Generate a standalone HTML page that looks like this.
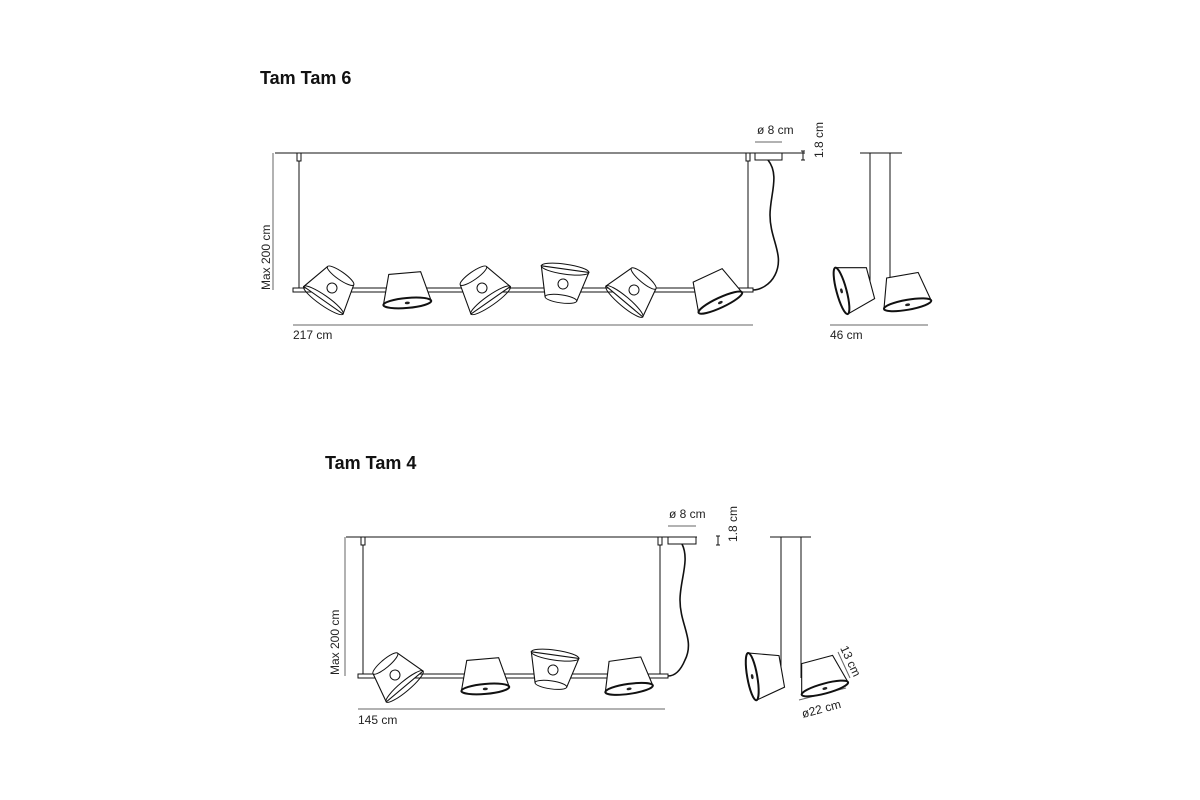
<!DOCTYPE html>
<html><head><meta charset="utf-8"><style>
html,body{margin:0;padding:0;background:#fff;}
svg{display:block;font-family:"Liberation Sans",sans-serif;}
</style></head><body>
<svg width="1200" height="800" viewBox="0 0 1200 800" xmlns="http://www.w3.org/2000/svg">
<defs>
<g id="sh">
<polygon points="-16,-15 16,-15 24,15 -24,15" fill="#fff" stroke="#111" stroke-width="1.1"/>
<ellipse cx="0" cy="15" rx="24" ry="5" fill="#fff" stroke="#111" stroke-width="2"/>
<ellipse cx="0" cy="15" rx="2.5" ry="1.3" fill="#222"/>
</g>
<g id="sh2">
<polygon points="-16,-15 16,-15 24,15 -24,15" fill="#fff" stroke="#111" stroke-width="1.1"/>
<ellipse cx="0" cy="-15" rx="16" ry="4" fill="#fff" stroke="#111" stroke-width="1"/>
<ellipse cx="0" cy="15" rx="24" ry="5" fill="none" stroke="#111" stroke-width="1"/>
<circle cx="0" cy="0" r="5" fill="#fff" stroke="#111" stroke-width="1"/>
</g>
</defs>
<text x="260" y="84" font-size="18" font-weight="bold" fill="#111">Tam Tam 6</text>
<text x="325" y="469" font-size="18" font-weight="bold" fill="#111">Tam Tam 4</text>
<g stroke="#111" fill="none" stroke-width="1">
<line x1="275" y1="153" x2="805" y2="153"/>
<line x1="299" y1="153" x2="299" y2="289"/>
<line x1="748" y1="153" x2="748" y2="289"/>
<rect x="297" y="153" width="4" height="8" fill="#fff"/>
<rect x="746" y="153" width="4" height="8" fill="#fff"/>
<rect x="293" y="288" width="460" height="4" fill="#fff"/>
<rect x="755" y="153" width="27" height="7" fill="#fff"/>
<path d="M768,160 C780,175 770,195 770,215 C770,240 785,255 775,275 C770,285 760,290 753,290" stroke-width="1.6"/>
<line x1="273" y1="153" x2="273" y2="290" stroke="#666"/>
<line x1="293" y1="325" x2="753" y2="325" stroke="#666"/>
<line x1="755" y1="142" x2="782" y2="142" stroke="#666"/>
<line x1="803" y1="151" x2="803" y2="160"/><line x1="801" y1="151" x2="805" y2="151"/><line x1="801" y1="160" x2="805" y2="160"/>
<line x1="860" y1="153" x2="902" y2="153"/>
<line x1="870" y1="153" x2="870" y2="290"/>
<line x1="890" y1="153" x2="890" y2="290"/>
<line x1="830" y1="325" x2="928" y2="325" stroke="#666"/>
<line x1="346" y1="537" x2="697" y2="537"/>
<line x1="363" y1="537" x2="363" y2="675"/>
<line x1="660" y1="537" x2="660" y2="675"/>
<rect x="361" y="537" width="4" height="8" fill="#fff"/>
<rect x="658" y="537" width="4" height="8" fill="#fff"/>
<rect x="358" y="674" width="310" height="4" fill="#fff"/>
<rect x="668" y="537" width="28" height="7" fill="#fff"/>
<path d="M682,544 C690,560 680,580 680,600 C680,625 695,640 685,660 C680,672 674,676 668,676" stroke-width="1.6"/>
<line x1="345" y1="537" x2="345" y2="676" stroke="#666"/>
<line x1="358" y1="709" x2="665" y2="709" stroke="#666"/>
<line x1="668" y1="526" x2="696" y2="526" stroke="#666"/>
<line x1="718" y1="536" x2="718" y2="545"/><line x1="716" y1="536" x2="720" y2="536"/><line x1="716" y1="545" x2="720" y2="545"/>
<line x1="770" y1="537" x2="811" y2="537"/>
<line x1="781" y1="537" x2="781" y2="678"/>
<line x1="801" y1="537" x2="801" y2="678"/>
<line x1="799" y1="700" x2="846" y2="688" stroke="#666"/>
<line x1="838" y1="652" x2="850" y2="678" stroke="#666"/>
</g>
<use href="#sh2" transform="translate(332,288) rotate(35)"/>
<use href="#sh" transform="translate(406,288) rotate(-5)"/>
<use href="#sh2" transform="translate(482,288) rotate(-35)"/>
<use href="#sh2" transform="translate(563,284) rotate(188)"/>
<use href="#sh2" transform="translate(634,290) rotate(40)"/>
<use href="#sh" transform="translate(714,289) rotate(-25)"/>
<use href="#sh" transform="translate(856,287) rotate(75)"/>
<use href="#sh" transform="translate(905,290) rotate(-10)"/>
<use href="#sh2" transform="translate(395,675) rotate(-40)"/>
<use href="#sh" transform="translate(484,674) rotate(-5)"/>
<use href="#sh2" transform="translate(553,670) rotate(188)"/>
<use href="#sh" transform="translate(627,674) rotate(-8)"/>
<use href="#sh" transform="translate(767,674) rotate(80)"/>
<use href="#sh" transform="translate(821,674) rotate(-15)"/>
<g font-size="12" fill="#222">
<text x="293" y="339">217 cm</text>
<text x="830" y="339">46 cm</text>
<text x="757" y="134">ø 8 cm</text>
<text x="270" y="290" transform="rotate(-90 270 290)">Max 200 cm</text>
<text x="823" y="158" transform="rotate(-90 823 158)">1.8 cm</text>
<text x="358" y="724">145 cm</text>
<text x="669" y="518">ø 8 cm</text>
<text x="339" y="675" transform="rotate(-90 339 675)">Max 200 cm</text>
<text x="737" y="542" transform="rotate(-90 737 542)">1.8 cm</text>
<text x="840" y="648" transform="rotate(65 840 648)">13 cm</text>
<text x="803" y="718" transform="rotate(-15 803 718)">ø22 cm</text>
</g>
</svg>
</body></html>
